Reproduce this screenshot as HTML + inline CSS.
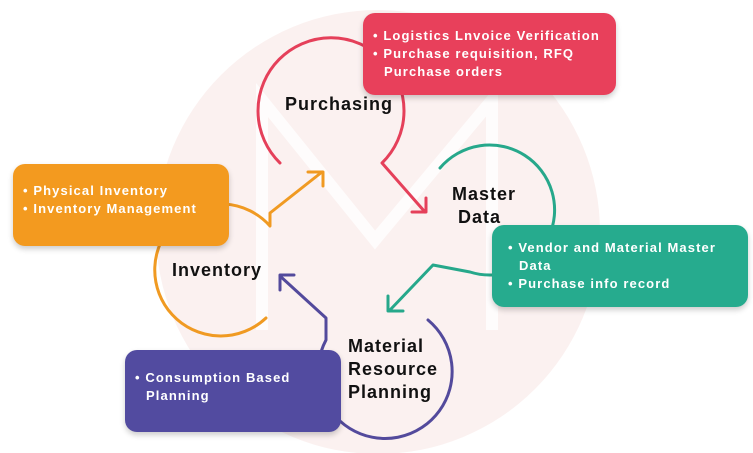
<!DOCTYPE html><html><head><style>
body{margin:0;width:753px;height:453px;overflow:hidden;background:#fff;font-family:"Liberation Sans",sans-serif}
.b{position:absolute;border-radius:12px;color:#fff;font-weight:bold;font-size:13px;line-height:18px;letter-spacing:1.1px;box-shadow:0 3px 6px rgba(0,0,0,.2);white-space:nowrap}
.b div{padding-left:11px;text-indent:-11px}
.l{position:absolute;font-weight:bold;font-size:18px;line-height:23px;color:#111;letter-spacing:1px}
</style></head><body>
<svg width="753" height="453" style="position:absolute;left:0;top:0">
<circle cx="378" cy="232" r="222" fill="#fbf1f0"/>
<path d="M262 330 V100 L375 240 L492 100 V330" stroke="#fff" stroke-width="12" fill="none" opacity=".8"/>
<g fill="none" stroke-width="3" stroke-linecap="round" stroke-linejoin="round">
<path d="M280 163 A73 73 0 1 1 382 163 L425 212" stroke="#e5405a"/>
<path d="M412 212 H426 V198" stroke="#e5405a"/>
<path d="M440 168 A65 65 0 1 1 470 272 L433 265 L390 310" stroke="#26a88b"/>
<path d="M388 296 V311 H403" stroke="#26a88b"/>
<path d="M428 320 A67 67 0 1 1 326 340 L326 318 L280 276" stroke="#534a9c"/>
<path d="M280 290 V275 H294" stroke="#534a9c"/>
<path d="M266 318 A66 66 0 1 1 270 226 L270 213 L322 172" stroke="#f09a22"/>
<path d="M308 172 H323 V186" stroke="#f09a22"/>
</g></svg>
<div class="b" style="left:363px;top:13px;width:253px;height:82px;background:#e8405b;padding:14px 0 0 10px;box-sizing:border-box"><div>• Logistics Lnvoice Verification</div><div>• Purchase requisition, RFQ<br>Purchase orders</div></div>
<div class="b" style="left:13px;top:164px;width:216px;height:82px;background:#f39a1f;padding:18px 0 0 10px;box-sizing:border-box"><div>• Physical Inventory</div><div>• Inventory Management</div></div>
<div class="b" style="left:492px;top:225px;width:256px;height:82px;background:#26ab8e;padding:14px 0 0 16px;box-sizing:border-box"><div>• Vendor and Material Master<br>Data</div><div>• Purchase info record</div></div>
<div class="b" style="left:125px;top:350px;width:216px;height:82px;background:#524ba0;padding:19px 0 0 10px;box-sizing:border-box"><div>• Consumption Based<br>Planning</div></div>
<div class="l" style="left:285px;top:93px">Purchasing</div>
<div class="l" style="left:452px;top:183px">Master<br>&nbsp;Data</div>
<div class="l" style="left:172px;top:259px">Inventory</div>
<div class="l" style="left:348px;top:335px">Material<br>Resource<br>Planning</div>
</body></html>
